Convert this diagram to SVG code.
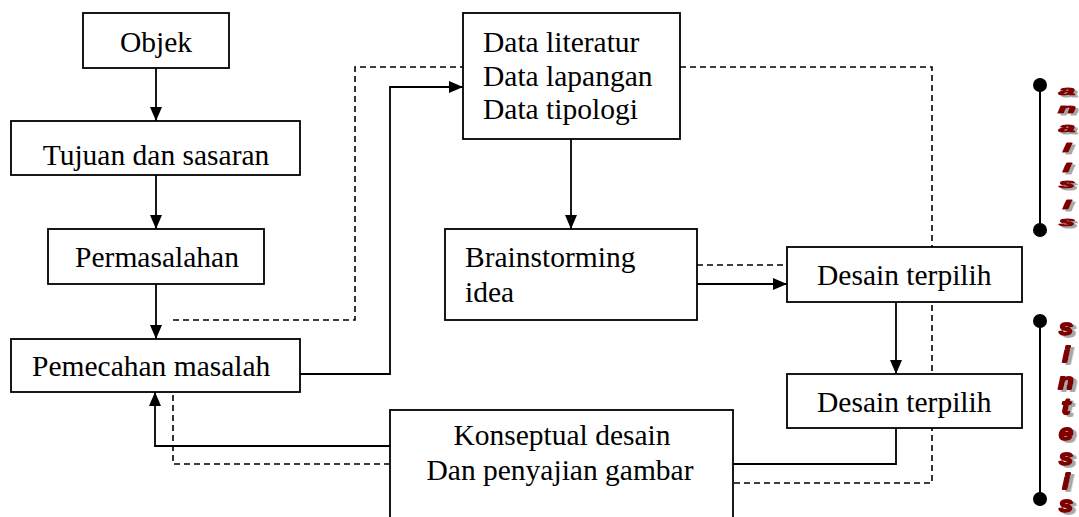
<svg xmlns="http://www.w3.org/2000/svg" width="1079" height="517" viewBox="0 0 1079 517">
<defs>
<style>
.box{fill:#fff;stroke:#000;stroke-width:1.8}
.t{font-family:"Liberation Serif","Times New Roman",serif;font-size:29.5px;fill:#000}
.c{text-anchor:middle}
.ln{fill:none;stroke:#000;stroke-width:1.8}
.ds{fill:none;stroke:#000;stroke-width:1.6;stroke-dasharray:6 4}
.v{font-family:"Liberation Sans",Arial,sans-serif;font-weight:bold;font-style:italic;font-size:22px;text-anchor:middle;fill:#800000;stroke:#800000;stroke-width:2;stroke-linejoin:round}
</style>
<marker id="ah" markerUnits="userSpaceOnUse" markerWidth="14" markerHeight="12" refX="14" refY="6" orient="auto">
<path d="M0,0 L14,6 L0,12 z" fill="#000"/>
</marker>
<filter id="sh" x="-50%" y="-50%" width="200%" height="200%">
<feDropShadow dx="3" dy="2" stdDeviation="0.4" flood-color="#a8a8a8" flood-opacity="1"/>
</filter>
</defs>
<rect width="1079" height="517" fill="#fff"/>
<g id="connectors">
<path class="ln" d="M156 68 V121" marker-end="url(#ah)"/>
<path class="ln" d="M156 175 V229" marker-end="url(#ah)"/>
<path class="ln" d="M156 284 V339" marker-end="url(#ah)"/>
<path class="ln" d="M300 374 H390 V87 H463" marker-end="url(#ah)"/>
<path class="ln" d="M571 139 V229" marker-end="url(#ah)"/>
<path class="ln" d="M697 284 H787" marker-end="url(#ah)"/>
<path class="ln" d="M896 302 V374" marker-end="url(#ah)"/>
<path class="ln" d="M896 428 V464 H733"/>
<path class="ln" d="M390 446 H155 V392" marker-end="url(#ah)"/>
<path class="ds" d="M173 320 H355 V67 H463"/>
<path class="ds" d="M680 67 H932 V483 H733"/>
<path class="ds" d="M697 265 H787"/>
<path class="ds" d="M390 464 H173 V392"/>
</g>
<g id="objek"><rect class="box" x="83" y="13" width="146" height="55"/><text class="t c" x="156" y="52">Objek</text></g>
<g id="tujuan"><rect class="box" x="11" y="121" width="289" height="54"/><text class="t c" x="156" y="165">Tujuan dan sasaran</text></g>
<g id="permasalahan"><rect class="box" x="48" y="229" width="216" height="55"/><text class="t c" x="157" y="267">Permasalahan</text></g>
<g id="pemecahan"><rect class="box" x="11" y="339" width="289" height="53"/><text class="t" x="32" y="376">Pemecahan masalah</text></g>
<g id="data"><rect class="box" x="463" y="13" width="217" height="126"/><text class="t" x="483" y="52">Data literatur</text><text class="t" x="483" y="86">Data lapangan</text><text class="t" x="483" y="119">Data tipologi</text></g>
<g id="brainstorming"><rect class="box" x="445" y="229" width="252" height="91"/><text class="t" x="465" y="267">Brainstorming</text><text class="t" x="465" y="302">idea</text></g>
<g id="desain1"><rect class="box" x="787" y="247" width="235" height="55"/><text class="t" x="817" y="285">Desain terpilih</text></g>
<g id="desain2"><rect class="box" x="787" y="374" width="235" height="54"/><text class="t" x="817" y="412">Desain terpilih</text></g>
<g id="konseptual"><rect class="box" x="390" y="410" width="343" height="120"/><text class="t c" x="562" y="445">Konseptual desain</text><text class="t c" x="560" y="480">Dan penyajian gambar</text></g>
<g id="analisis">
<line x1="1040" y1="85" x2="1040" y2="230" stroke="#000" stroke-width="2"/>
<circle cx="1040" cy="85" r="7" fill="#000"/><circle cx="1040" cy="230" r="7" fill="#000"/>
<g filter="url(#sh)">
<g transform="translate(1067,0) scale(1.3,0.55)">
<text class="v" x="0" y="172">a</text>
<text class="v" x="0" y="205">n</text>
<text class="v" x="0" y="240">a</text>
<text class="v" x="0" y="276">l</text>
<text class="v" x="0" y="312">i</text>
<text class="v" x="0" y="341">s</text>
<text class="v" x="0" y="380">i</text>
<text class="v" x="0" y="411">s</text>
</g>
</g>
</g>
<g id="sintesis">
<line x1="1040" y1="321" x2="1040" y2="499" stroke="#000" stroke-width="2"/>
<circle cx="1040" cy="321" r="7" fill="#000"/><circle cx="1040" cy="499" r="7" fill="#000"/>
<g filter="url(#sh)" transform="translate(1066,0) scale(1.15,1)">
<text class="v" x="0" y="335">s</text>
<text class="v" x="0" y="362">i</text>
<text class="v" x="0" y="389">n</text>
<text class="v" x="0" y="414">t</text>
<text class="v" x="0" y="440">e</text>
<text class="v" x="0" y="465">s</text>
<text class="v" x="0" y="489">i</text>
<text class="v" x="0" y="512">s</text>
</g>
</g>
</svg>
